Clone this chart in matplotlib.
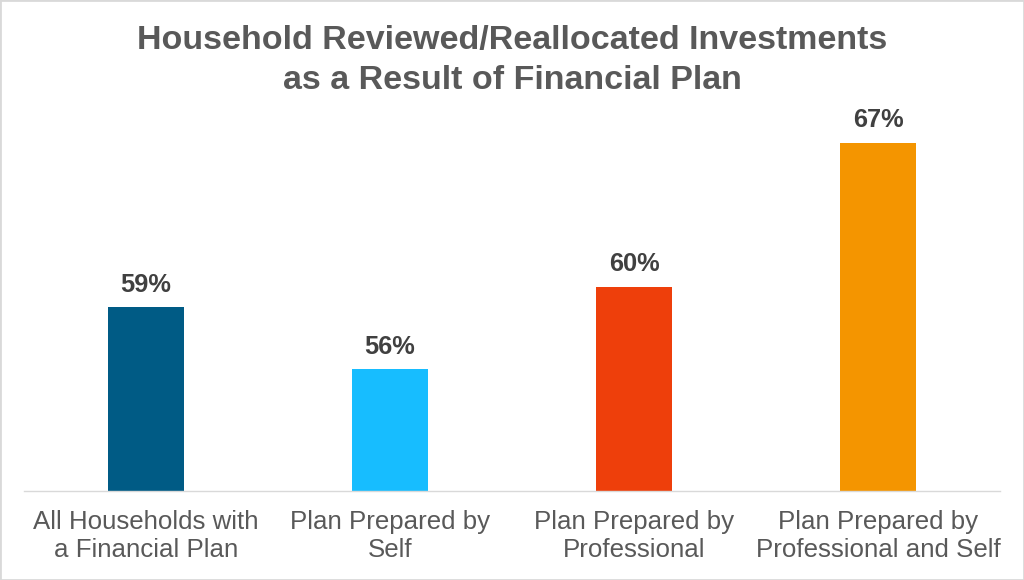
import matplotlib
matplotlib.use("Agg")
import matplotlib.pyplot as plt
from matplotlib.patches import Rectangle

plt.rcParams['font.family'] = ['Liberation Sans', 'DejaVu Sans']

categories = ["All Households with\na Financial Plan", "Plan Prepared by\nSelf",
              "Plan Prepared by\nProfessional", "Plan Prepared by\nProfessional and Self"]
values = [59, 56, 60, 67]
colors = ["#005B85", "#17BDFF", "#EE3F0B", "#F49500"]
title_lines = ["Household Reviewed/Reallocated Investments", "as a Result of Financial Plan"]

W, H = 1024, 580
fig = plt.figure(figsize=(W / 100, H / 100), dpi=100)
# plot area: baseline at ~490 px from top, about 20.6 px per percentage point
ax = fig.add_axes([24 / W, 89.5 / H, 976 / W, 411.6 / H])

x = range(len(categories))
bars = ax.bar(x, values, width=0.31, color=colors, zorder=2)
ax.set_xlim(-0.5, 3.5)
ax.set_ylim(50.1, 70.1)

for b, v in zip(bars, values):
    ax.annotate(f"{v}%", (b.get_x() + b.get_width() / 2, v), xytext=(0, 11),
                textcoords="offset points", ha="center", va="baseline",
                fontsize=18.3, fontweight="bold", color="#404040")

ax.set_xticks(list(x))
ax.set_xticklabels(categories, fontsize=18.6, color="#595959", linespacing=1.21)
ax.tick_params(axis="x", length=0, pad=14)
ax.set_yticks([])
for s in ["top", "right", "left"]:
    ax.spines[s].set_visible(False)
ax.spines["bottom"].set_color("#D9D9D9")
ax.spines["bottom"].set_linewidth(1)

# title, two lines placed by baseline
for line, ypx in zip(title_lines, [49, 89]):
    fig.text(0.5, 1 - ypx / H, line, ha="center", va="baseline",
             fontsize=24.5, fontweight="bold", color="#595959")

fig.patches.append(Rectangle((0, 0), 1, 1, transform=fig.transFigure, fill=False,
                             edgecolor="#D9D9D9", linewidth=2))

fig.savefig("out.png", dpi=100)
